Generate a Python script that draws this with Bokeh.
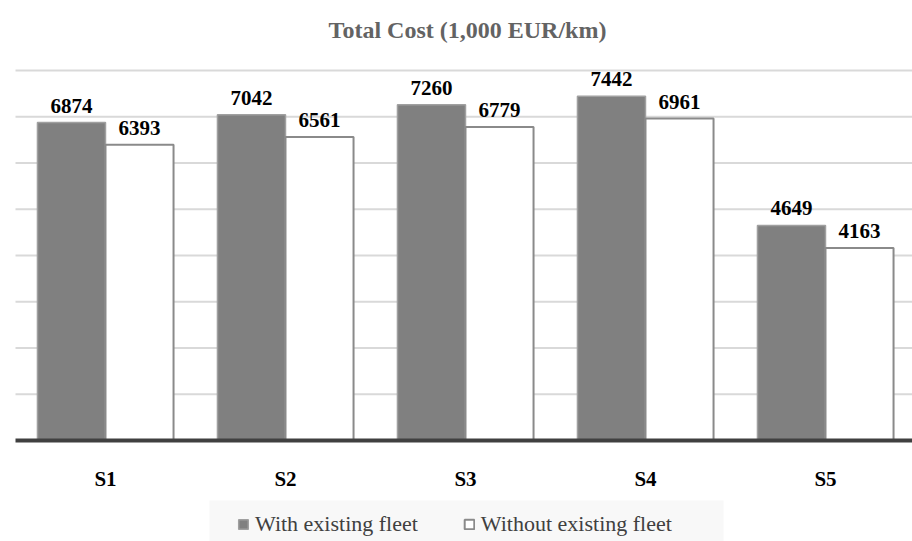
from bokeh.plotting import figure
from bokeh.models import (ColumnDataSource, Legend, LegendItem, Range1d)
from bokeh.core.properties import value
from bokeh.embed import file_html
from bokeh.resources import INLINE

categories = ["S1", "S2", "S3", "S4", "S5"]
with_fleet = [6874, 7042, 7260, 7442, 4649]
without_fleet = [6393, 6561, 6779, 6961, 4163]
series_names = ["With existing fleet", "Without existing fleet"]
title_text = "Total Cost (1,000 EUR/km)"
grid_values = [1000, 2000, 3000, 4000, 5000, 6000, 7000, 8000]

FONT = "Liberation Serif"
PX_PER_UNIT_Y = 0.04625   # pixels per EUR unit
PX_PER_CAT = 180.0
BASE_PX = 440.0
idx = list(range(len(categories)))
bw = 0.378
off = bw / 2

x_lo = -0.5 - 15 / PX_PER_CAT
x_hi = -0.5 + 897 / PX_PER_CAT
y_lo = -(541 - BASE_PX) / PX_PER_UNIT_Y
y_hi = BASE_PX / PX_PER_UNIT_Y


def dx(px):
    return x_lo + px / PX_PER_CAT


def dy(py):
    return (BASE_PX - py) / PX_PER_UNIT_Y


src = ColumnDataSource(data=dict(
    x1=[i - off for i in idx], x2=[i + off for i in idx],
    v1=with_fleet, v2=without_fleet,
    t1=[str(v) for v in with_fleet], t2=[str(v) for v in without_fleet],
))

p = figure(width=912, height=541, output_backend="svg", toolbar_location=None,
           x_range=Range1d(x_lo, x_hi), y_range=Range1d(y_lo, y_hi),
           x_axis_type=None, y_axis_type=None, min_border=0)
p.outline_line_color = None
p.background_fill_color = "white"
p.border_fill_color = "white"
p.grid.visible = False

# gridlines
p.segment(x0=[-0.5] * len(grid_values), x1=[x_hi + 1] * len(grid_values),
          y0=grid_values, y1=grid_values, line_color="#d9d9d9", line_width=2)

r1 = p.vbar(x="x1", top="v1", bottom=0, width=bw, source=src, fill_color="#808080",
            line_color="#a0a0a0", line_width=1.5)
r2 = p.vbar(x="x2", top="v2", bottom=0, width=bw, source=src, fill_color="white",
            line_color="#8a8a8a", line_width=2)

# baseline
p.segment(x0=[-0.5], x1=[x_hi + 1], y0=[0], y1=[0], line_color="#404040", line_width=4)

for xc, yc, tc in (("x1", "v1", "t1"), ("x2", "v2", "t2")):
    p.text(x=xc, y=yc, text=tc, source=src, text_align="center", text_baseline="alphabetic",
           y_offset=-17, text_font=value(FONT), text_font_style="bold", text_font_size="21px",
           text_color="black")

# category labels
p.text(x=idx, y=[dy(478)] * len(idx), text=categories, text_align="center",
       text_baseline="alphabetic", text_font=value(FONT), text_font_style="bold",
       text_font_size="21px", text_color="black")

# title
p.text(x=[dx(467)], y=[dy(29)], text=[title_text], text_align="center",
       text_baseline="alphabetic", text_font=value(FONT), text_font_style="bold",
       text_font_size="24px", text_color="#636363")

# legend background panel
p.quad(left=[dx(209)], right=[dx(723)], top=[dy(500)], bottom=[dy(550)],
       fill_color="#f8f8f8", line_color=None)

legend = Legend(items=[LegendItem(label=series_names[0], renderers=[r1]),
                       LegendItem(label=series_names[1], renderers=[r2])],
                orientation="horizontal", location=(237, 4),
                background_fill_alpha=0, border_line_color=None,
                padding=10, margin=0, spacing=45,
                label_standoff=6, glyph_width=12, glyph_height=12,
                label_text_font=FONT, label_text_font_size="22px", label_text_color="#404040")
p.add_layout(legend, "center")

open("out.html", "w").write(file_html(p, INLINE))
